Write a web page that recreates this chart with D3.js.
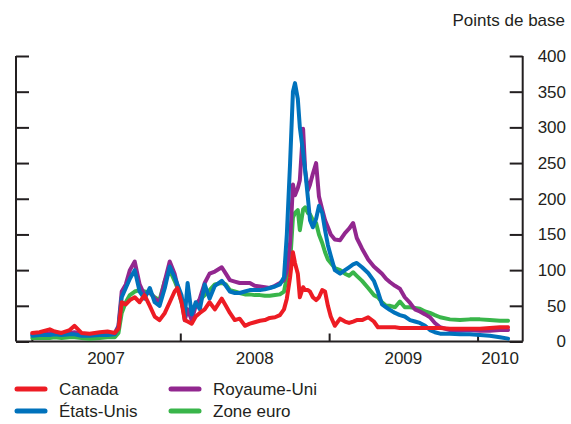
<!DOCTYPE html>
<html>
<head>
<meta charset="utf-8">
<script src="https://cdn.jsdelivr.net/npm/d3@7"></script>
<style>
  body { margin: 0; background: #fff; }
  text { font-family: "Liberation Sans", Arial, sans-serif; fill: #231f20; }
</style>
</head>
<body>
<div id="chart"></div>
<script>
var dates = [
	"2007-01-02","2007-01-20","2007-02-14","2007-02-26","2007-03-15","2007-04-04","2007-04-16","2007-05-03",
	"2007-05-23","2007-06-17","2007-07-06","2007-07-24","2007-08-02","2007-08-10","2007-08-20","2007-08-30",
	"2007-09-11","2007-09-23","2007-10-05","2007-10-18","2007-10-30","2007-11-11","2007-11-24","2007-12-06",
	"2007-12-18","2007-12-25","2008-01-04","2008-01-12","2008-01-19","2008-01-29","2008-02-08","2008-02-18",
	"2008-03-01","2008-03-13","2008-03-26","2008-04-12","2008-04-22","2008-05-02","2008-05-14","2008-05-26",
	"2008-06-08","2008-06-20","2008-07-02","2008-07-15","2008-07-27","2008-08-08","2008-08-21","2008-09-02",
	"2008-09-12","2008-09-19","2008-09-27","2008-10-04","2008-10-09","2008-10-16","2008-10-21","2008-10-29",
	"2008-11-03","2008-11-10","2008-11-15","2008-11-22","2008-11-30","2008-12-07","2008-12-15","2008-12-22",
	"2008-12-29","2009-01-05","2009-01-15","2009-01-28","2009-02-09","2009-02-19","2009-03-01","2009-03-10",
	"2009-03-23","2009-04-07","2009-04-21","2009-05-01","2009-05-11","2009-05-21","2009-05-31","2009-06-12",
	"2009-06-24","2009-07-06","2009-07-19","2009-07-31","2009-08-12","2009-08-25","2009-09-06","2009-09-18",
	"2009-10-01","2009-10-25","2009-11-19","2009-12-13","2010-01-07","2010-01-31","2010-02-25","2010-03-17"
];

var canada = [
	12,13,17,14,12,16,22,12, 11,13,14,12,18,55,52,58, 62,55,65,50,35,30,40,55,
	70,75,55,30,28,25,35,40, 45,55,45,60,50,40,30,32, 22,25,27,29,30,33,34,37,
	45,60,90,125,110,95,62,76, 72,72,70,62,58,62,72,70, 50,35,22,32,28,26,28,30,
	30,34,28,20,20,20,20,20, 19,19,19,19,19,19,19,19, 19,18,18,18,18,19,20,20
];
var etatsUnis = [
	8,9,9,10,9,10,10,8, 8,9,9,10,20,62,75,88, 100,70,60,75,55,50,75,105,
	90,80,65,35,82,38,55,45, 80,60,78,85,78,70,68,68, 70,72,72,72,73,75,77,80,
	90,150,250,350,362,340,300,265, 240,200,170,160,172,190,180,156, 135,120,100,95,100,104,108,110,
	104,96,85,70,52,48,44,40, 37,35,30,28,26,22,16,13, 11,11,10,10,9,8,6,4
];
var royaumeUni = [
	10,11,12,13,11,12,13,10, 10,11,12,12,22,70,80,100, 112,80,65,70,60,55,85,112,
	95,78,60,30,45,30,50,60, 82,95,98,104,95,86,84,82, 82,82,78,77,76,75,78,82,
	86,100,138,220,205,215,226,298, 240,212,220,235,250,203,185,170, 160,150,143,142,152,158,166,145,
	130,115,105,100,95,88,83,78, 74,62,54,45,42,38,34,26, 20,16,15,16,15,15,16,16
];
var zoneEuro = [
	5,5,5,6,5,6,6,5, 4,5,6,6,12,40,55,65, 70,72,70,68,62,58,85,100,
	85,75,55,38,45,40,50,58, 65,72,80,82,80,72,70,68, 66,66,65,65,64,64,65,66,
	70,90,110,174,180,184,156,185, 188,180,178,170,166,150,138,125, 115,110,103,100,95,92,97,92,
	85,75,65,62,55,50,50,48, 56,48,48,47,46,42,40,37, 34,31,30,31,31,30,29,29
];

var seriesNames = ["Canada", "États-Unis", "Royaume-Uni", "Zone euro"];
var seriesColors = ["#ed1c24", "#0072bc", "#92278f", "#39b54a"];
var yTicks = [0, 50, 100, 150, 200, 250, 300, 350, 400];
var yearLabels = ["2007", "2008", "2009", "2010"];

var width = 571, height = 424;
var parse = d3.timeParse("%Y-%m-%d");

var x = d3.scaleTime()
	.domain([parse("2006-11-23"), parse("2010-04-22")])
	.range([16, 522.7]);
var y = d3.scaleLinear().domain([0, 400]).range([341.5, 56]);

var svg = d3.select("#chart").append("svg")
	.attr("width", width)
	.attr("height", height);

// axes: left (ticks only), right (with labels), bottom
var left = svg.append("g").attr("transform", "translate(16,0)")
	.call(d3.axisRight(y).tickValues(yTicks).tickSize(13).tickFormat(""));
var right = svg.append("g").attr("transform", "translate(522.7,0)")
	.call(d3.axisLeft(y).tickValues(yTicks).tickSize(13).tickFormat(""));
var yearTicks = yearLabels.map(function(d){ return parse(d + "-01-01"); });
var bottom = svg.append("g").attr("transform", "translate(0,341.5)")
	.call(d3.axisTop(x).tickValues(yearTicks).tickSize(8).tickFormat(""));

[left, right, bottom].forEach(function(g){
	g.select(".domain").attr("stroke", "#231f20").attr("stroke-width", 2);
	g.selectAll(".tick line").attr("stroke", "#231f20").attr("stroke-width", 2);
});
left.select(".domain").attr("d", "M0,56V341.5");
right.select(".domain").attr("d", "M0,56V341.5");
bottom.select(".domain").attr("d", "M16,0H522.7");

svg.selectAll(".ylab")
	.data(yTicks)
	.enter()
	.append("text")
	.attr("class", "ylab")
	.attr("x", 566)
	.attr("y", function(d){ return y(d); })
	.attr("dy", "0.35em")
	.attr("text-anchor", "end")
	.style("font-size", "17px")
	.text(function(d){ return d; });

svg.append("text")
	.attr("x", 565)
	.attr("y", 26)
	.attr("text-anchor", "end")
	.style("font-size", "17px")
	.text("Points de base");

svg.selectAll(".xlab")
	.data(yearLabels)
	.enter()
	.append("text")
	.attr("class", "xlab")
	.attr("x", function(d){
		var a = x(parse(d + "-01-01"));
		var b = d === "2010" ? x.range()[1] : x(parse((+d + 1) + "-01-01"));
		return (a + b) / 2;
	})
	.attr("y", 364)
	.attr("text-anchor", "middle")
	.style("font-size", "17px")
	.text(function(d){ return d; });

// lines, back to front
var allValues = [canada, etatsUnis, royaumeUni, zoneEuro];
var line = d3.line()
	.x(function(d){ return x(d.date); })
	.y(function(d){ return y(d.v); });

[3, 2, 1, 0].forEach(function(i){
	var pts = dates.map(function(d, j){ return {date: parse(d), v: allValues[i][j]}; });
	svg.append("path")
		.datum(pts)
		.attr("fill", "none")
		.attr("stroke", seriesColors[i])
		.attr("stroke-width", 4)
		.attr("stroke-linejoin", "round")
		.attr("stroke-linecap", "round")
		.attr("d", line);
});

// legend
var legendPos = [[17, 389], [17, 411], [171, 389], [171, 411]];
var leg = svg.selectAll(".leg")
	.data(seriesNames)
	.enter()
	.append("g")
	.attr("class", "leg")
	.attr("transform", function(d, i){ return "translate(" + legendPos[i][0] + "," + legendPos[i][1] + ")"; });
leg.append("line")
	.attr("x1", 0).attr("x2", 28)
	.attr("stroke", function(d, i){ return seriesColors[i]; })
	.attr("stroke-width", 5)
	.attr("stroke-linecap", "round");
leg.append("text")
	.attr("x", 42)
	.attr("dy", "0.35em")
	.style("font-size", "17px")
	.text(function(d){ return d; });
</script>
</body>
</html>
